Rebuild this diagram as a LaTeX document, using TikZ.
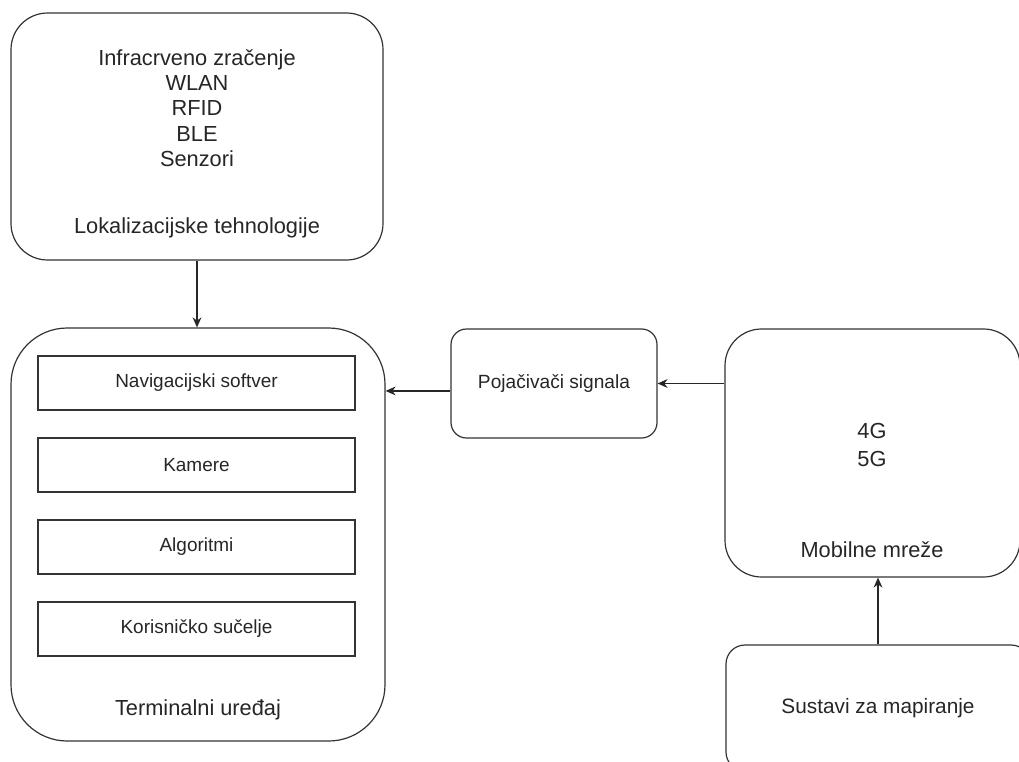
\documentclass[tikz,border=0pt]{standalone}
\usepackage{fontspec}
\setmainfont{Liberation Sans}
\usetikzlibrary{arrows.meta}

\begin{document}
\begin{tikzpicture}[x=0.025cm, y=-0.025cm, ->, >={Stealth[length=2.5mm,width=2.2mm]}, line width=0.85pt,
  caja/.style={draw=black!80, rounded corners=#1, inner sep=0pt, text=black!85},
  modulo/.style={draw=black!80, inner sep=0pt, minimum width=317*0.025cm, minimum height=54*0.025cm, font=\fontsize{13.5}{16}\selectfont, text=black!85},
  texto/.style={align=center, text=black!85, font=\fontsize{15.5}{18}\selectfont}]
\clip (0,0) rectangle (1019,762);
% Cajas
\node [caja=26pt, minimum width=372*0.025cm, minimum height=247*0.025cm] (lok)  at (197,136.5) {};
\node [caja=40pt, minimum width=374*0.025cm, minimum height=413*0.025cm] (term) at (198,534.5) {};
\node [caja=11pt, minimum width=206*0.025cm, minimum height=109*0.025cm, font=\fontsize{13.6}{16}\selectfont] (poj) at (554,383.5) {Pojačivači signala};
\node [caja=26pt, minimum width=295*0.025cm, minimum height=248*0.025cm] (mob)  at (872.5,453) {};
\node [caja=13.5pt, minimum width=304*0.025cm, minimum height=126*0.025cm, font=\fontsize{14.8}{17}\selectfont] (sus) at (878,708) {Sustavi za mapiranje};
% Textos
\node [texto] (lokLista) at (197,108) {Infracrveno zračenje\\WLAN\\RFID\\BLE\\Senzori};
\node [texto] (lokNombre) at (197,228) {Lokalizacijske tehnologije};
\node [texto] (termNombre) at (198,710) {Terminalni uređaj};
\node [texto, font=\fontsize{15.5}{19.5}\selectfont] (mobLista) at (872,445) {4G\\5G};
\node [texto] (mobNombre) at (872,550) {Mobilne mreže};
% Modulos
\node [modulo] (nav) at (196.5,383) {Navigacijski softver};
\node [modulo] (kam) at (196.5,465) {Kamere};
\node [modulo] (alg) at (196.5,547) {Algoritmi};
\node [modulo] (kor) at (196.5,629) {Korisničko sučelje};
% Flechas
\draw [black!85] (lok.south) -- (lok.south |- term.north);
\draw [black!85] ([yshift=-5.3pt]poj.west) -- ([yshift=-5.3pt]poj.west -| term.east);
\draw [black!85] (mob.west |- poj.east) -- (poj.east);
\draw [black!85] (sus.north) -- (sus.north |- mob.south);
\end{tikzpicture}
\end{document}
